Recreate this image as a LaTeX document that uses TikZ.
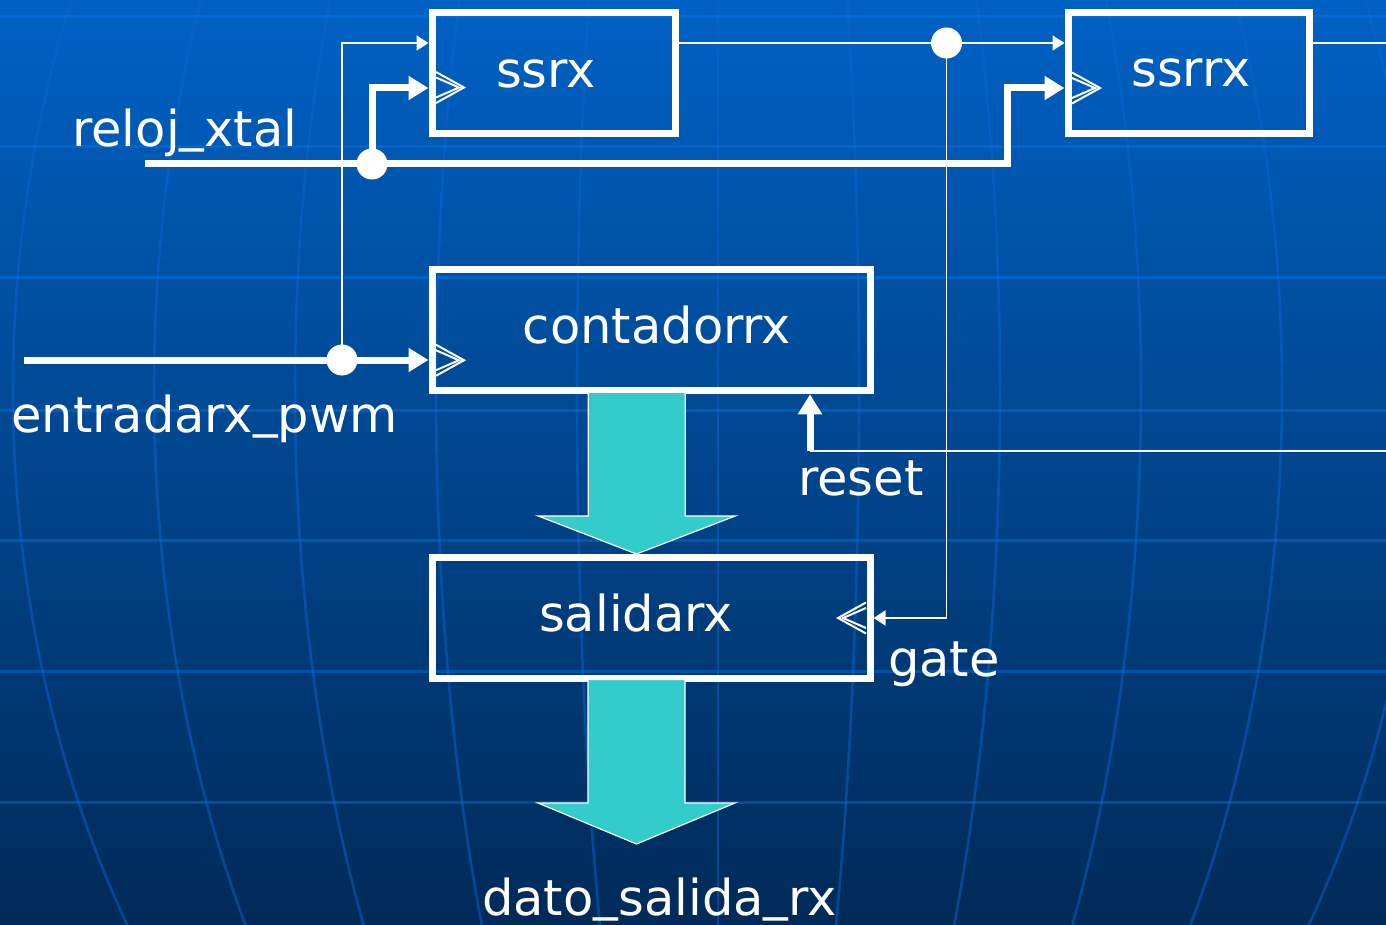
\documentclass[tikz,border=0pt]{standalone}
\usepackage{fontspec}
\setmainfont{DejaVu Sans}
\usetikzlibrary{arrows.meta,calc}

\definecolor{bgtop}{RGB}{0,97,196}
\definecolor{bgbot}{RGB}{0,42,88}
\definecolor{gridblue}{RGB}{0,130,255}
\definecolor{meridian}{RGB}{10,100,210}
\definecolor{busteal}{RGB}{51,204,204}

% underscore set a little closer to the baseline
\newcommand{\usc}{\raisebox{6pt}{\_}}

\tikzset{
  pics/clk/.style={code={
    \draw[white,line width=2pt] (0,-15.5) -- (28,0) -- (0,15.5);
    \draw[white,line width=2pt] (0,-10) -- (23,0) -- (0,10);
  }}
}

\begin{document}
\begin{tikzpicture}[x=1pt,y=-1pt,
  every node/.style={inner sep=0pt},
  block/.style={draw=white, line width=7pt, minimum width=#1, minimum height=121pt},
  lbl/.style={text=white, font=\fontsize{49.5}{58}\selectfont},
  dot/.style={circle, fill=white, minimum size=31pt},
  gridline/.style={draw=gridblue, draw opacity=0.35, line width=3pt},
  meridianline/.style={draw=meridian, draw opacity=0.5, line width=2.6pt},
  thinw/.style={draw=white, line width=1.8pt},
  thinarrow/.style={thinw, -{Triangle[length=12pt,width=15pt]}},
  thickw/.style={draw=white, line width=7pt},
  thickarrow/.style={thickw, -{Triangle[length=20pt,width=23pt]}},
  bus/.style={fill=busteal, draw=white, line width=1.2pt, line join=miter}
]
\useasboundingbox (0,0) rectangle (1386,925);
\clip (0,0) rectangle (1386,925);

% backdrop: gradient with a globe-like grid
\shade[top color=bgtop, bottom color=bgbot] (0,0) rectangle (1386,925);
\foreach \dd in {-705,-564,-423,-282,-141,0,141,282,423,564,705}
  \draw[meridianline] plot[domain=-5:930, samples=50, smooth]
    ({718+\dd*sqrt(1-((\x-390)/980)^2)}, \x);
\foreach \yy in {17,147,278,410,540,671,802}
  \draw[gridline] (0,\yy) -- (1386,\yy);

% blocks
\node[block=243pt]   (ssrx)       at (553.5,73)    {};
\node[block=241.5pt] (ssrrx)      at (1188.75,73)  {};
\node[block=438.5pt] (contadorrx) at (651.25,330.25) {};
\node[block=438pt]   (salidarx)   at (651,618)     {};

\node[lbl, anchor=base] (l-ssrx)  at (546,88)  {ssrx};
\node[lbl, anchor=base] (l-ssrrx) at (1191,87) {ssrrx};
\node[lbl, anchor=base] (l-cont)  at (657,343) {contadorrx};
\node[lbl, anchor=base] (l-sal)   at (636,631) {salidarx};

% clock inputs
\pic at ([xshift=7.5pt,yshift=-14.5pt]ssrx.west) {clk};
\pic at ([xshift=7.5pt,yshift=-15pt]ssrrx.west) {clk};
\pic at ([xshift=7.5pt,yshift=-30pt]contadorrx.west) {clk};
\pic[rotate=180] at ([xshift=-7.5pt]salidarx.east) {clk};

% junctions and free ends
\node[dot] (j1) at (342,360) {};
\node[dot] (j2) at (946.5,43) {};
\node[dot] (j3) at (372,164) {};
\coordinate (pwm-in)   at (24,360);
\coordinate (clk-in)   at (145,164);
\coordinate (clk-turn) at (1007,164);
\coordinate (rst-in)   at (1400,451);
\coordinate (rst-turn) at (810,451);
\coordinate (q-out)    at (1400,43);
\coordinate (dato)     at (636.5,844);

% wiring
\draw[thickarrow] (pwm-in) -- (pwm-in -| contadorrx.west);
\draw[thinarrow] (j1.center) |- (ssrx.west |- j2);
\draw[thinw] (ssrx.east |- j2) -- (j2.center);
\draw[thinarrow] (j2.center) -- (ssrrx.west |- j2);
\draw[thinarrow] (ssrrx.east |- j2) -- (q-out);
\draw[thinarrow] (j2.center) |- (salidarx.east);
\draw[thickarrow] (clk-in) -- (clk-turn) |- ([yshift=-15pt]ssrrx.west);
\draw[thickarrow] (j3.center) |- ([yshift=-15pt]ssrx.west);
\draw[thinw] (rst-in) -- (rst-turn);
\draw[thickarrow] (rst-turn) -- (rst-turn |- contadorrx.south);

% data buses
\draw[bus] let \p1=([xshift=-14.5pt,yshift=2pt]contadorrx.south),
               \p2=([xshift=-14.5pt]salidarx.north) in
  (\x1-48.5pt,\y1) -- (\x1-48.5pt,\y2+38pt) -- (\x1-98.5pt,\y2+38pt) -- (\x2,\y2)
  -- (\x1+98.5pt,\y2+38pt) -- (\x1+48.5pt,\y2+38pt) -- (\x1+48.5pt,\y1) -- cycle;
\draw[bus] let \p1=([xshift=-14.5pt,yshift=2.5pt]salidarx.south),
               \p2=(dato) in
  (\x1-48.5pt,\y1) -- (\x1-48.5pt,\y2+41pt) -- (\x1-98.5pt,\y2+41pt) -- (\x2,\y2)
  -- (\x1+98.5pt,\y2+41pt) -- (\x1+48.5pt,\y2+41pt) -- (\x1+48.5pt,\y1) -- cycle;

% signal names
\node[lbl, anchor=base west] (l-clk)  at (72,147)  {reloj\usc xtal};
\node[lbl, anchor=base west] (l-pwm)  at (11,432)  {entradarx\usc pwm};
\node[lbl, anchor=base west] (l-rst)  at (798,495) {reset};
\node[lbl, anchor=base west] (l-gate) at (888,676) {gate};
\node[lbl, anchor=base]      (l-dato) at (659.5,915) {dato\usc salida\usc rx};
\end{tikzpicture}
\end{document}
